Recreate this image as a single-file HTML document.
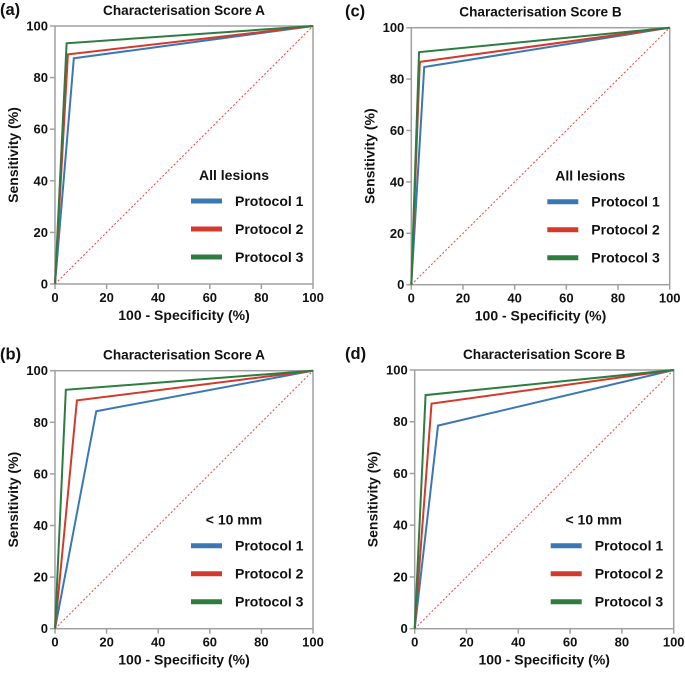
<!DOCTYPE html>
<html><head><meta charset="utf-8">
<style>
body{margin:0;background:#fff;}
svg{display:block;font-family:"Liberation Sans",Arial,sans-serif;font-weight:bold;}
</style></head>
<body>
<svg id="fig" width="685" height="674" viewBox="0 0 685 674"></svg>
<script>
// Data per panel: [fpr, sensitivity] knee point for each protocol
const panelLabels = ["(a)", "(c)", "(b)", "(d)"];
const panelTitles = ["Characterisation Score A", "Characterisation Score B", "Characterisation Score A", "Characterisation Score B"];
const panelGroups = ["All lesions", "All lesions", "< 10 mm", "< 10 mm"];
const seriesNames = ["Protocol 1", "Protocol 2", "Protocol 3"];
const kneeFPR_a = [7.3, 5.0, 4.5];
const kneeSens_a = [87.5, 89.0, 93.3];
const kneeFPR_c = [5.0, 3.3, 3.0];
const kneeSens_c = [84.7, 86.7, 90.5];
const kneeFPR_b = [16.0, 8.5, 4.2];
const kneeSens_b = [84.3, 88.5, 92.6];
const kneeFPR_d = [9.0, 6.5, 4.2];
const kneeSens_d = [78.5, 87.0, 90.3];
const ticks = [0, 20, 40, 60, 80, 100];

const colors = ["#3a78b5", "#d33a2c", "#2e7d40"];
const NS = "http://www.w3.org/2000/svg";
const svg = document.getElementById("fig");
function mk(tag, attrs, parent) {
  const e = document.createElementNS(NS, tag);
  for (const k in attrs) e.setAttribute(k, attrs[k]);
  (parent || svg).appendChild(e);
  return e;
}
const panels = [
  {x0: 55, x1: 313, y0: 284, y1: 26, labelX: 0, fpr: kneeFPR_a, sens: kneeSens_a, id: "a"},
  {x0: 411.3, x1: 669.7, y0: 284.7, y1: 27.7, labelX: 345, fpr: kneeFPR_c, sens: kneeSens_c, id: "c"},
  {x0: 55, x1: 313, y0: 628.7, y1: 370.7, labelX: 0, fpr: kneeFPR_b, sens: kneeSens_b, id: "b"},
  {x0: 414.7, x1: 673.7, y0: 628.7, y1: 370, labelX: 345, fpr: kneeFPR_d, sens: kneeSens_d, id: "d"}
];
panels.forEach((p, i) => {
  const g = mk("g", {});
  
  
  const sx = v => p.x0 + (p.x1 - p.x0) * v / 100;
  const sy = v => p.y0 - (p.y0 - p.y1) * v / 100;
  const cx = (p.x0 + p.x1) / 2;
  const lab = mk("text", {x: p.labelX, y: p.y1 - 11, "font-size": 16.5, fill: "#111"}, g);
  lab.textContent = panelLabels[i];
  
  
  const t = mk("text", {x: cx, y: p.y1 - 11, "font-size": 13.6, "text-anchor": "middle", fill: "#111"}, g);
  t.textContent = panelTitles[i];
  
  
  const fr = mk("rect", {x: p.x0, y: p.y1, width: p.x1 - p.x0, height: p.y0 - p.y1, fill: "none", stroke: "#a0a0a0", "stroke-width": 1.5}, g);
  
  
  ticks.forEach(v => {
    mk("line", {x1: sx(v), x2: sx(v), y1: p.y0, y2: p.y0 + 5, stroke: "#a0a0a0", "stroke-width": 1.5}, g);
    const xt = mk("text", {x: sx(v), y: p.y0 + 18, "font-size": 13, "text-anchor": "middle", fill: "#111"}, g);
    xt.textContent = v;
    
    
    mk("line", {x1: p.x0 - 5, x2: p.x0, y1: sy(v), y2: sy(v), stroke: "#a0a0a0", "stroke-width": 1.5}, g);
    const yt = mk("text", {x: p.x0 - 7, y: sy(v) + 4.5, "font-size": 13, "text-anchor": "end", fill: "#111"}, g);
    yt.textContent = v;
    
    
  });
  const xa = mk("text", {x: cx, y: p.y0 + 36, "font-size": 14, "text-anchor": "middle", fill: "#111"}, g);
  xa.textContent = "100 - Specificity (%)";
  
  
  const ya = mk("text", {x: 0, y: 0, "font-size": 14, "text-anchor": "middle", fill: "#111",
    transform: `translate(${p.x0 - 37},${(p.y0 + p.y1) / 2}) rotate(-90)`}, g);
  ya.textContent = "Sensitivity (%)";
  
  
  const ref = mk("line", {x1: sx(0), y1: sy(0), x2: sx(100), y2: sy(100), stroke: "#f04040", "stroke-width": 1, "stroke-dasharray": "2,2"}, g);
  
  
  seriesNames.forEach((n, k) => {
    const pl = mk("polyline", {points: `${sx(0)},${sy(0)} ${sx(p.fpr[k])},${sy(p.sens[k])} ${sx(100)},${sy(100)}`,
      fill: "none", stroke: colors[k], "stroke-width": 2}, g);
    
    
  });
  const lh = mk("text", {x: p.x0 + 179, y: p.y0 - 104, "font-size": 14, "text-anchor": "middle", fill: "#111"}, g);
  lh.textContent = panelGroups[i];
  
  
  seriesNames.forEach((n, k) => {
    const ly = p.y0 - 83 + k * 28;
    const ls = mk("line", {x1: p.x0 + 136, x2: p.x0 + 167, y1: ly, y2: ly, stroke: colors[k], "stroke-width": 5}, g);
    
    
    const lt = mk("text", {x: p.x0 + 180, y: ly + 5, "font-size": 14, fill: "#111"}, g);
    lt.textContent = n;
    
    
  });
});
</script>
</body></html>
